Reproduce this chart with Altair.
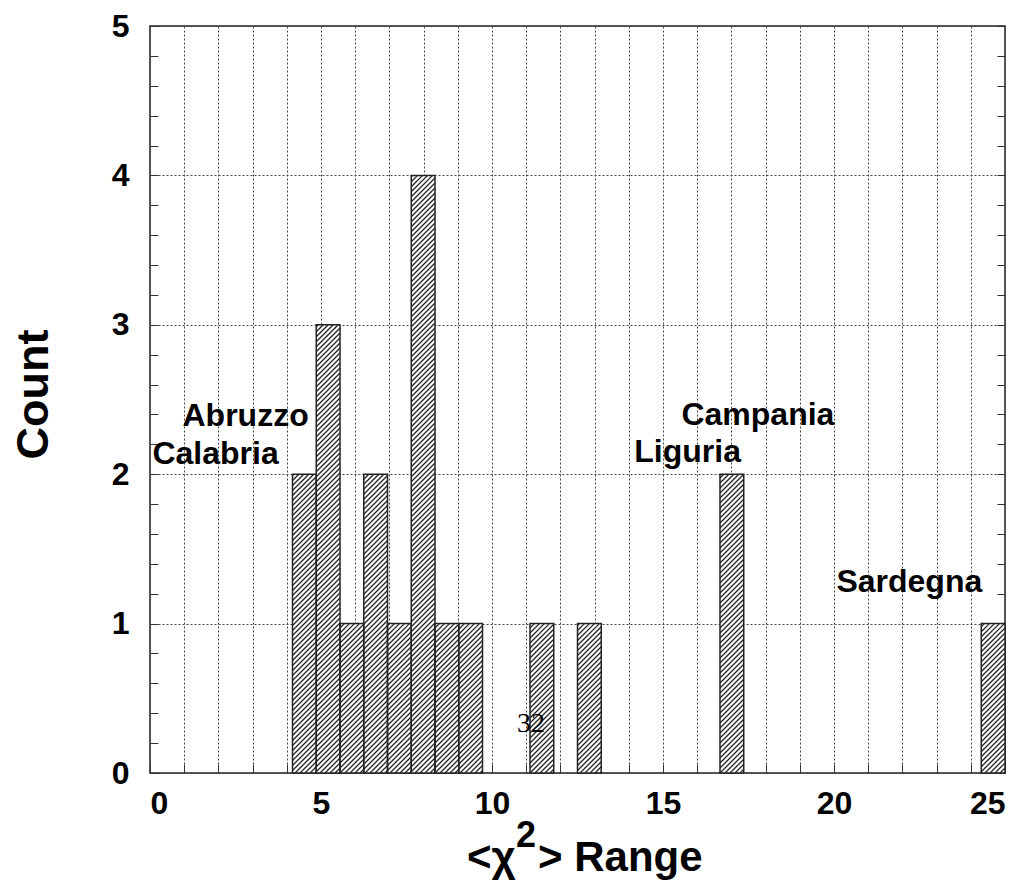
import math
import altair as alt
import pandas as pd

# ---------------- data ----------------
n_bins = 36
x_min, x_max = 0.0, 25.0
y_max = 5
counts = [0, 0, 0, 0, 0, 0, 2, 3, 1, 2, 1, 4, 1, 1, 0, 0, 1, 0,
          1, 0, 0, 0, 0, 0, 2, 0, 0, 0, 0, 0, 0, 0, 0, 0, 0, 1]
region_names = ["Abruzzo", "Calabria", "Campania", "Liguria", "Sardegna"]
region_x = [0.95, 0.07, 15.54, 14.16, 20.07]
region_y = [2.32, 2.07, 2.33, 2.08, 1.21]
x_grid_values = list(range(0, 26))
y_grid_values = [0, 1, 2, 3, 4, 5]
y_minor_values = [round(i * 0.2, 1) for i in range(26)]
page_number = "32"

# ---------------- derived tables ----------------
W, H = 855, 747
bw = (x_max - x_min) / n_bins
bars = pd.DataFrame({
    "lo": [x_min + i * bw for i in range(n_bins)],
    "hi": [x_min + (i + 1) * bw for i in range(n_bins)],
    "count": counts,
})
bars = bars[bars["count"] > 0].reset_index(drop=True)
bars["zero"] = 0

# hatch segments (45 degree "///"), derived from the bars
sx = W / (x_max - x_min)
sy = H / y_max
spacing = 5.0
rows = []
for lo, hi, c in zip(bars["lo"], bars["hi"], bars["count"]):
    x0p, x1p, hp = lo * sx, hi * sx, c * sy
    kmin = math.floor((x0p - hp) / spacing) - 1
    kmax = math.ceil(x1p / spacing) + 1
    for k in range(kmin, kmax + 1):
        b = k * spacing
        xs = max(x0p, b)
        xe = min(x1p, hp + b)
        if xe - xs > 0.4:
            rows.append({"x": xs / sx, "y": (xs - b) / sy,
                         "x2": xe / sx, "y2": (xe - b) / sy})
hatch = pd.DataFrame(rows)

labels = pd.DataFrame({"name": region_names, "x": region_x, "y": region_y})

FONT = "Liberation Sans"
xs_ = alt.Scale(domain=[x_min, x_max], nice=False, zero=False)
ys_ = alt.Scale(domain=[0, y_max], nice=False)

grid_axis_x = alt.Axis(values=x_grid_values, grid=True, ticks=False, tickSize=0,
                       domain=False, labelExpr="datum.value % 5 == 0 ? datum.label : ''",
                       labelFont=FONT, labelFontWeight="bold", labelFontSize=32,
                       labelColor="black", labelPadding=15, title=None,
                       gridColor="#444", gridDash=[2, 2], gridWidth=1)
grid_axis_y = alt.Axis(values=y_grid_values, grid=True, ticks=False, tickSize=0,
                       domain=False, labelFont=FONT, labelFontWeight="bold",
                       labelFontSize=32, labelColor="black", labelPadding=21,
                       title="Count", titleFont=FONT, titleFontWeight="bold",
                       titleFontSize=45, titleColor="black", titleAngle=-90,
                       titleX=-103, titleY=368, titleAlign="center",
                       titleBaseline="alphabetic",
                       gridColor="#444", gridDash=[2, 2], gridWidth=1)

base_bars = alt.Chart(bars).mark_rect(fill="white", stroke=None).encode(
    x=alt.X("lo:Q", scale=xs_, axis=grid_axis_x),
    x2="hi:Q",
    y=alt.Y("count:Q", scale=ys_, axis=grid_axis_y),
    y2="zero:Q",
)

tick_axis_x = alt.Axis(orient="bottom", values=x_grid_values, offset=-9, tickSize=9,
                       labels=False, grid=False, domain=False, title=None,
                       tickColor="#333", tickWidth=1)
tick_axis_y = alt.Axis(orient="left", values=y_minor_values, offset=-8, tickSize=8,
                       labels=False, grid=False, domain=False, title=None,
                       tickColor="#333", tickWidth=1)

hatch_layer = alt.Chart(hatch).mark_rule(color="#222", strokeWidth=1.3).encode(
    x=alt.X("x:Q", scale=xs_, axis=tick_axis_x),
    x2="x2:Q",
    y=alt.Y("y:Q", scale=ys_, axis=tick_axis_y),
    y2="y2:Q",
)

outline = alt.Chart(bars).mark_rect(fill=None, stroke="#222", strokeWidth=1.5).encode(
    x=alt.X("lo:Q", scale=xs_, axis=None),
    x2="hi:Q",
    y=alt.Y("count:Q", scale=ys_, axis=None),
    y2="zero:Q",
)

right_axis = alt.Axis(orient="right", values=y_minor_values, offset=-8, tickSize=8,
                      labels=False, grid=False, domain=False, title=None,
                      tickColor="#333", tickWidth=1)

region_text = alt.Chart(labels).mark_text(
    font=FONT, fontWeight="bold", fontSize=32, align="left",
    baseline="alphabetic", color="black"
).encode(
    x=alt.X("x:Q", scale=xs_, axis=None),
    y=alt.Y("y:Q", scale=ys_, axis=right_axis),
    text="name:N",
)

one = pd.DataFrame({"t": [0]})
t1 = alt.Chart(one).mark_text(text="<χ", font=FONT, fontWeight="bold", fontSize=42,
                              align="left", baseline="alphabetic", color="black").encode(
    x=alt.value(317), y=alt.value(845))
t2 = alt.Chart(one).mark_text(text="2", font=FONT, fontWeight="bold", fontSize=36,
                              align="left", baseline="alphabetic", color="black").encode(
    x=alt.value(366), y=alt.value(821))
t3 = alt.Chart(one).mark_text(text="> Range", font=FONT, fontWeight="bold", fontSize=42,
                              align="left", baseline="alphabetic", color="black").encode(
    x=alt.value(388), y=alt.value(845))
pg = alt.Chart(one).mark_text(text=page_number, font="Liberation Serif", fontSize=28,
                              align="center", baseline="alphabetic", color="black").encode(
    x=alt.value(381), y=alt.value(706))

chart = alt.layer(base_bars, hatch_layer, outline, region_text, t1, t2, t3, pg).resolve_axis(
    x="independent", y="independent"
).properties(
    width=W, height=H,
    autosize=alt.AutoSizeParams(type="none"),
    padding={"left": 142, "top": 18, "right": 13, "bottom": 110},
).configure_view(stroke="#222", strokeWidth=1.5)

chart.save("out.html", embed_options={"renderer": "svg", "actions": False})
